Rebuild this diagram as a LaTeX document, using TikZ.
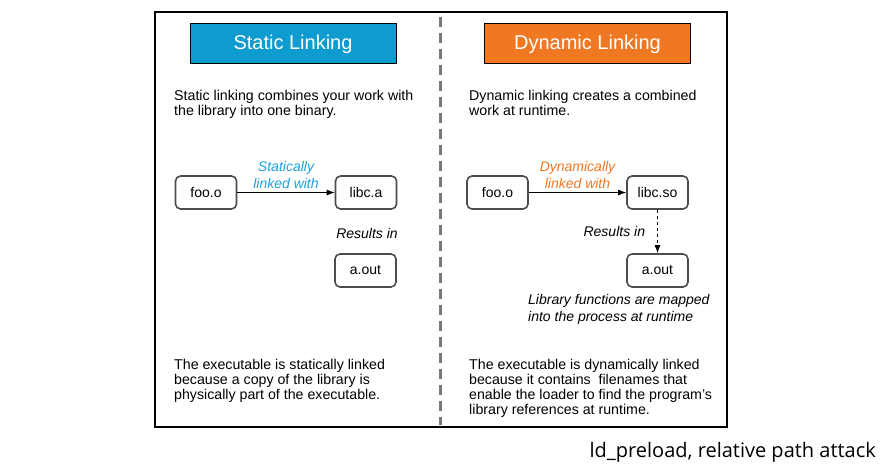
\documentclass[tikz,border=0pt]{standalone}
\usepackage{fontspec}
\setmainfont{Liberation Sans}
\newfontfamily\captionfont{Open Sans}
\usetikzlibrary{positioning}
\usetikzlibrary{arrows.meta}

\definecolor{staticblue}{HTML}{0E9BD0}
\definecolor{statictext}{HTML}{1BA1D9}
\definecolor{dynorange}{HTML}{F07822}
\definecolor{dividergray}{HTML}{7A7A7A}

\tikzset{
  titlebox/.style={draw, line width=1pt, minimum width=206pt, minimum height=40pt, text=white, font=\fontsize{20}{24}\selectfont},
  filebox/.style={draw=black!70, rounded corners=5pt, line width=1.6pt, minimum width=61pt, minimum height=33pt, font=\fontsize{14}{15}\selectfont},
  bodytext/.style={anchor=north west, align=left, inner sep=0pt, font=\fontsize{14.2}{15}\selectfont},
  note/.style={align=center, inner sep=0pt, font=\itshape\fontsize{14}{17}\selectfont},
}

\begin{document}
\begin{tikzpicture}[x=1pt, y=-1pt]

  \useasboundingbox (0,0) rectangle (882,465);

  % Frame and divider
  \draw[line width=2pt] (155,12) rectangle (727,427);
  \draw[dividergray, line width=3pt, dash pattern=on 10pt off 6pt] (440,17) -- (440,425);

  % Static linking

  \node[titlebox, fill=staticblue] (static-title) at (293,44) {Static Linking};
  \node[bodytext] (static-intro) at (174,90) {Static linking combines your work with \\ the library into one binary.};

  \node[filebox] (static-foo) at (206,192.5) {foo.o};
  \node[filebox] (static-libc) at (366,192.5) {libc.a};
  \draw[-{Latex[length=8pt, width=6pt]}, line width=0.9pt] (static-foo) -- (static-libc)
    node[midway, above=3pt, note, text=statictext] (static-label) {Statically \\ linked with};

  \node[note] (static-results) at (367,233) {Results in};
  \node[filebox] (static-aout) at (365.5,270.5) {a.out};

  \node[bodytext] (static-outro) at (174,359) {The executable is statically linked \\ because a copy of the library is \\ physically part of the executable.};

  % Dynamic linking

  \node[titlebox, fill=dynorange] (dyn-title) at (587.5,44) {Dynamic Linking};
  \node[bodytext] (dyn-intro) at (469,90) {Dynamic linking creates a combined \\ work at runtime.};

  \node[filebox] (dyn-foo) at (497.5,192.5) {foo.o};
  \node[filebox] (dyn-libc) at (657.5,192.5) {libc.so};
  \draw[-{Latex[length=8pt, width=6pt]}, line width=0.9pt] (dyn-foo) -- (dyn-libc)
    node[midway, above=3pt, note, text=dynorange] (dyn-label) {Dynamically \\ linked with};

  \node[filebox] (dyn-aout) at (657.5,270.5) {a.out};
  \draw[-{Latex[length=8pt, width=6pt]}, line width=0.9pt, dash pattern=on 3pt off 3pt] (dyn-libc) -- (dyn-aout)
    node[midway, left=12pt, note] (dyn-results) {Results in};

  \node[note, align=left, anchor=north west] (dyn-mapped) at (528,294) {Library functions are mapped \\ into the process at runtime};

  \node[bodytext] (dyn-outro) at (469,359) {The executable is dynamically linked \\ because it contains\ \ filenames that \\ enable the loader to find the program's \\ library references at runtime.};

  % Caption
  \node[anchor=east, inner sep=0pt, font=\captionfont\fontsize{20}{24}\selectfont] (caption) at (876,452) {ld\_preload, relative path attack};

\end{tikzpicture}
\end{document}
